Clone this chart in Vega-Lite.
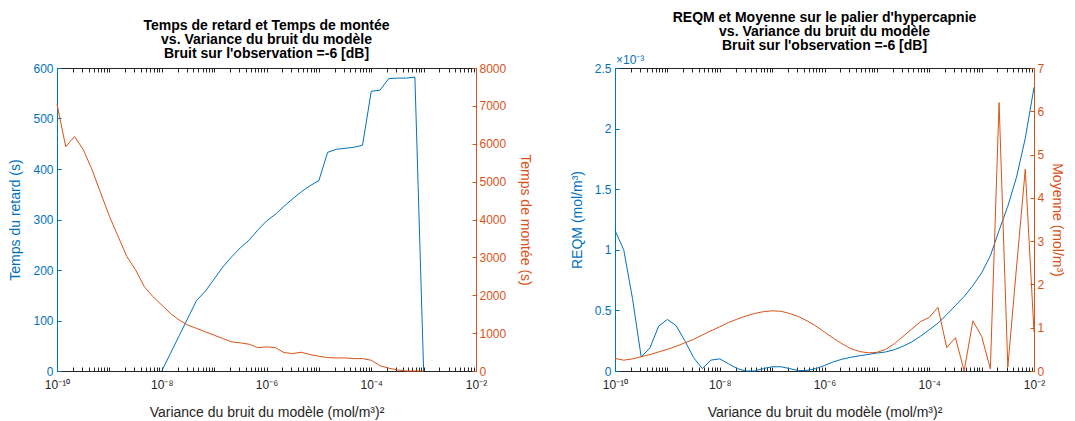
{
  "$schema": "https://vega.github.io/schema/vega-lite/v6.json",
  "background": "white",
  "padding": {"left": 8, "top": 11, "right": 8, "bottom": 2},
  "datasets": {
    "gauche": [
      {"x": 1e-10, "montee": 7045},
      {"x": 1.4678e-10, "montee": 5923},
      {"x": 2.1544e-10, "montee": 6188},
      {"x": 3.1623e-10, "montee": 5852},
      {"x": 4.6416e-10, "montee": 5322},
      {"x": 6.8129e-10, "montee": 4703},
      {"x": 1e-9, "montee": 4084},
      {"x": 1.4678e-9, "montee": 3554},
      {"x": 2.1544e-9, "montee": 3023},
      {"x": 3.1623e-9, "montee": 2670},
      {"x": 4.6416e-9, "montee": 2228},
      {"x": 6.8129e-9, "montee": 1962},
      {"x": 1e-8, "retard": 0, "montee": 1741},
      {"x": 1.4678e-8, "retard": 35, "montee": 1520},
      {"x": 2.1544e-8, "retard": 70, "montee": 1344},
      {"x": 3.1623e-8, "retard": 105, "montee": 1211},
      {"x": 4.6416e-8, "retard": 140, "montee": 1123},
      {"x": 6.8129e-8, "retard": 158, "montee": 1034},
      {"x": 1e-7, "retard": 182, "montee": 946},
      {"x": 1.4678e-7, "retard": 206, "montee": 857},
      {"x": 2.1544e-7, "retard": 226, "montee": 769},
      {"x": 3.1623e-7, "retard": 244, "montee": 743},
      {"x": 4.6416e-7, "retard": 259, "montee": 707},
      {"x": 6.8129e-7, "retard": 279, "montee": 619},
      {"x": 1e-6, "retard": 297, "montee": 636},
      {"x": 1.4678e-6, "retard": 310, "montee": 619},
      {"x": 2.1544e-6, "retard": 326, "montee": 486},
      {"x": 3.1623e-6, "retard": 341, "montee": 460},
      {"x": 4.6416e-6, "retard": 355, "montee": 495},
      {"x": 6.8129e-6, "retard": 367, "montee": 433},
      {"x": 1e-5, "retard": 377, "montee": 389},
      {"x": 1.4678e-5, "retard": 433, "montee": 354},
      {"x": 2.1544e-5, "retard": 439, "montee": 345},
      {"x": 3.1623e-5, "retard": 441, "montee": 345},
      {"x": 4.6416e-5, "retard": 443, "montee": 327},
      {"x": 6.8129e-5, "retard": 447, "montee": 327},
      {"x": 1e-4, "retard": 554, "montee": 283},
      {"x": 1.4678e-4, "retard": 556, "montee": 140},
      {"x": 2.1544e-4, "retard": 579, "montee": 75},
      {"x": 3.1623e-4, "retard": 580, "montee": 30},
      {"x": 4.6416e-4, "retard": 580, "montee": 0},
      {"x": 6.8129e-4, "retard": 582, "montee": 0},
      {"x": 1e-3, "retard": 0, "montee": 0}
    ],
    "droite": [
      {"x": 1e-10, "reqm": 0.00116, "moyenne": 0.29},
      {"x": 1.4678e-10, "reqm": 0.00100, "moyenne": 0.25},
      {"x": 2.1544e-10, "reqm": 0.00060, "moyenne": 0.28},
      {"x": 3.1623e-10, "reqm": 0.000116, "moyenne": 0.33},
      {"x": 4.6416e-10, "reqm": 0.00019, "moyenne": 0.38},
      {"x": 6.8129e-10, "reqm": 0.00037, "moyenne": 0.44},
      {"x": 1e-9, "reqm": 0.000425, "moyenne": 0.50},
      {"x": 1.4678e-9, "reqm": 0.000375, "moyenne": 0.57},
      {"x": 2.1544e-9, "reqm": 0.00025, "moyenne": 0.65},
      {"x": 3.1623e-9, "reqm": 0.00011, "moyenne": 0.73},
      {"x": 4.6416e-9, "reqm": 0.00002, "moyenne": 0.83},
      {"x": 6.8129e-9, "reqm": 0.00009, "moyenne": 0.93},
      {"x": 1e-8, "reqm": 0.00010, "moyenne": 1.02},
      {"x": 1.4678e-8, "reqm": 0.00006, "moyenne": 1.12},
      {"x": 2.1544e-8, "reqm": 0.00002, "moyenne": 1.20},
      {"x": 3.1623e-8, "reqm": 0.0, "moyenne": 1.27},
      {"x": 4.6416e-8, "reqm": 0.0, "moyenne": 1.33},
      {"x": 6.8129e-8, "reqm": 0.00002, "moyenne": 1.37},
      {"x": 1e-7, "reqm": 0.000035, "moyenne": 1.39},
      {"x": 1.4678e-7, "reqm": 0.000035, "moyenne": 1.38},
      {"x": 2.1544e-7, "reqm": 0.00002, "moyenne": 1.33},
      {"x": 3.1623e-7, "reqm": 0.000003, "moyenne": 1.26},
      {"x": 4.6416e-7, "reqm": 0.000005, "moyenne": 1.16},
      {"x": 6.8129e-7, "reqm": 0.00002, "moyenne": 1.04},
      {"x": 1e-6, "reqm": 0.000045, "moyenne": 0.90},
      {"x": 1.4678e-6, "reqm": 0.000075, "moyenne": 0.76},
      {"x": 2.1544e-6, "reqm": 0.000097, "moyenne": 0.63},
      {"x": 3.1623e-6, "reqm": 0.000113, "moyenne": 0.52},
      {"x": 4.6416e-6, "reqm": 0.000125, "moyenne": 0.45},
      {"x": 6.8129e-6, "reqm": 0.000136, "moyenne": 0.42},
      {"x": 1e-5, "reqm": 0.000148, "moyenne": 0.43},
      {"x": 1.4678e-5, "reqm": 0.000157, "moyenne": 0.50},
      {"x": 2.1544e-5, "reqm": 0.000176, "moyenne": 0.63},
      {"x": 3.1623e-5, "reqm": 0.000204, "moyenne": 0.80},
      {"x": 4.6416e-5, "reqm": 0.00024, "moyenne": 0.97},
      {"x": 6.8129e-5, "reqm": 0.000287, "moyenne": 1.14},
      {"x": 1e-4, "reqm": 0.00034, "moyenne": 1.24},
      {"x": 1.4678e-4, "reqm": 0.000395, "moyenne": 1.47},
      {"x": 2.1544e-4, "reqm": 0.000465, "moyenne": 0.54},
      {"x": 3.1623e-4, "reqm": 0.00054, "moyenne": 0.77},
      {"x": 4.6416e-4, "reqm": 0.000615, "moyenne": 0.0},
      {"x": 6.8129e-4, "reqm": 0.000705, "moyenne": 1.16},
      {"x": 1e-3, "reqm": 0.00081, "moyenne": 0.80},
      {"x": 1.4678e-3, "reqm": 0.00095, "moyenne": 0.05},
      {"x": 2.1544e-3, "reqm": 0.00116, "moyenne": 6.20},
      {"x": 3.1623e-3, "reqm": 0.00136, "moyenne": 0.09},
      {"x": 4.6416e-3, "reqm": 0.0016, "moyenne": 2.4},
      {"x": 6.8129e-3, "reqm": 0.00192, "moyenne": 4.66},
      {"x": 1e-2, "reqm": 0.00234, "moyenne": 0.9}
    ]
  },
  "config": {
    "font": "Liberation Sans",
    "view": {"stroke": null},
    "axis": {
      "grid": false,
      "labelFont": "Liberation Sans",
      "labelFontSize": 12,
      "titleFont": "Liberation Sans",
      "titleFontSize": 14,
      "titleFontWeight": "normal",
      "domainColor": "#262626",
      "tickColor": "#262626",
      "labelColor": "#262626",
      "titleColor": "#262626",
      "domainWidth": 1,
      "tickWidth": 1
    },
    "title": {
      "font": "Liberation Sans",
      "fontSize": 14,
      "fontWeight": "bold",
      "color": "#000000",
      "anchor": "middle",
      "lineHeight": 14,
      "offset": 1
    }
  },
  "hconcat": [
    {
      "width": 419,
      "height": 303,
      "title": {"text": ["Temps de retard et Temps de montée", "vs. Variance du bruit du modèle", "Bruit sur l'observation =-6 [dB]"]},
      "data": {"name": "gauche"},
      "layer": [
        {
          "mark": {"type": "line", "color": "#0072BD", "strokeWidth": 1},
          "encoding": {
            "x": {
              "field": "x", "type": "quantitative",
              "scale": {"type": "log", "domain": [1e-10, 1e-2], "nice": false},
              "axis": {
                "orient": "bottom",
                "title": "Variance du bruit du modèle (mol/m³)²",
                "values": [1e-10,2e-10,3e-10,4e-10,5e-10,6e-10,7e-10,8e-10,9e-10,1e-9,2e-9,3e-9,4e-9,5e-9,6e-9,7e-9,8e-9,9e-9,1e-8,2e-8,3e-8,4e-8,5e-8,6e-8,7e-8,8e-8,9e-8,1e-7,2e-7,3e-7,4e-7,5e-7,6e-7,7e-7,8e-7,9e-7,1e-6,2e-6,3e-6,4e-6,5e-6,6e-6,7e-6,8e-6,9e-6,1e-5,2e-5,3e-5,4e-5,5e-5,6e-5,7e-5,8e-5,9e-5,1e-4,2e-4,3e-4,4e-4,5e-4,6e-4,7e-4,8e-4,9e-4,1e-3,2e-3,3e-3,4e-3,5e-3,6e-3,7e-3,8e-3,9e-3,1e-2],
                "labelExpr": "datum.value == 1e-10 ? '10⁻¹⁰' : datum.value == 1e-8 ? '10⁻⁸' : datum.value == 1e-6 ? '10⁻⁶' : datum.value == 1e-4 ? '10⁻⁴' : datum.value == 1e-2 ? '10⁻²' : ''",
                "labelOverlap": false,
                "labelFlush": false,
                "labelBound": false,
                "tickSize": -4,
                "labelPadding": 12,
                "titlePadding": 15
              }
            },
            "y": {
              "field": "retard", "type": "quantitative",
              "scale": {"domain": [0, 600], "nice": false},
              "axis": {
                "orient": "left",
                "title": "Temps du retard (s)",
                "values": [0, 100, 200, 300, 400, 500, 600],
                "tickSize": -4,
                "labelPadding": 8,
                "titlePadding": 10,
                "domainColor": "#0072BD",
                "tickColor": "#0072BD",
                "labelColor": "#0072BD",
                "titleColor": "#0072BD"
              }
            }
          }
        },
        {
          "mark": {"type": "line", "color": "#D95319", "strokeWidth": 1},
          "encoding": {
            "x": {
              "field": "x", "type": "quantitative",
              "scale": {"type": "log", "domain": [1e-10, 1e-2], "nice": false},
              "axis": {
                "orient": "top",
                "title": null,
                "labels": false,
                "values": [1e-10,2e-10,3e-10,4e-10,5e-10,6e-10,7e-10,8e-10,9e-10,1e-9,2e-9,3e-9,4e-9,5e-9,6e-9,7e-9,8e-9,9e-9,1e-8,2e-8,3e-8,4e-8,5e-8,6e-8,7e-8,8e-8,9e-8,1e-7,2e-7,3e-7,4e-7,5e-7,6e-7,7e-7,8e-7,9e-7,1e-6,2e-6,3e-6,4e-6,5e-6,6e-6,7e-6,8e-6,9e-6,1e-5,2e-5,3e-5,4e-5,5e-5,6e-5,7e-5,8e-5,9e-5,1e-4,2e-4,3e-4,4e-4,5e-4,6e-4,7e-4,8e-4,9e-4,1e-3,2e-3,3e-3,4e-3,5e-3,6e-3,7e-3,8e-3,9e-3,1e-2],
                "tickSize": -4
              }
            },
            "y": {
              "field": "montee", "type": "quantitative",
              "scale": {"domain": [0, 8000], "nice": false},
              "axis": {
                "orient": "right",
                "title": "Temps de montée (s)",
                "values": [0, 1000, 2000, 3000, 4000, 5000, 6000, 7000, 8000],
                "format": "d",
                "tickSize": -4,
                "labelPadding": 7,
                "titlePadding": 12,
                "domainColor": "#D95319",
                "tickColor": "#D95319",
                "labelColor": "#D95319",
                "titleColor": "#D95319"
              }
            }
          }
        }
      ],
      "resolve": {"scale": {"y": "independent"}, "axis": {"x": "independent", "y": "independent"}}
    },
    {
      "width": 419,
      "height": 303,
      "title": {"text": ["REQM et Moyenne sur le palier d'hypercapnie", "vs. Variance du bruit du modèle", "Bruit sur l'observation =-6 [dB]"]},
      "data": {"name": "droite"},
      "layer": [
        {
          "mark": {"type": "line", "color": "#0072BD", "strokeWidth": 1},
          "encoding": {
            "x": {
              "field": "x", "type": "quantitative",
              "scale": {"type": "log", "domain": [1e-10, 1e-2], "nice": false},
              "axis": {
                "orient": "bottom",
                "title": "Variance du bruit du modèle (mol/m³)²",
                "values": [1e-10,2e-10,3e-10,4e-10,5e-10,6e-10,7e-10,8e-10,9e-10,1e-9,2e-9,3e-9,4e-9,5e-9,6e-9,7e-9,8e-9,9e-9,1e-8,2e-8,3e-8,4e-8,5e-8,6e-8,7e-8,8e-8,9e-8,1e-7,2e-7,3e-7,4e-7,5e-7,6e-7,7e-7,8e-7,9e-7,1e-6,2e-6,3e-6,4e-6,5e-6,6e-6,7e-6,8e-6,9e-6,1e-5,2e-5,3e-5,4e-5,5e-5,6e-5,7e-5,8e-5,9e-5,1e-4,2e-4,3e-4,4e-4,5e-4,6e-4,7e-4,8e-4,9e-4,1e-3,2e-3,3e-3,4e-3,5e-3,6e-3,7e-3,8e-3,9e-3,1e-2],
                "labelExpr": "datum.value == 1e-10 ? '10⁻¹⁰' : datum.value == 1e-8 ? '10⁻⁸' : datum.value == 1e-6 ? '10⁻⁶' : datum.value == 1e-4 ? '10⁻⁴' : datum.value == 1e-2 ? '10⁻²' : ''",
                "labelOverlap": false,
                "labelFlush": false,
                "labelBound": false,
                "tickSize": -4,
                "labelPadding": 12,
                "titlePadding": 15
              }
            },
            "y": {
              "field": "reqm", "type": "quantitative",
              "scale": {"domain": [0, 0.0025], "nice": false},
              "axis": {
                "orient": "left",
                "title": "REQM (mol/m³)",
                "values": [0, 0.0005, 0.001, 0.0015, 0.002, 0.0025],
                "labelExpr": "format(datum.value * 1000, '~g')",
                "tickSize": -4,
                "labelPadding": 8,
                "titlePadding": 10,
                "domainColor": "#0072BD",
                "tickColor": "#0072BD",
                "labelColor": "#0072BD",
                "titleColor": "#0072BD"
              }
            }
          }
        },
        {
          "mark": {"type": "line", "color": "#D95319", "strokeWidth": 1},
          "encoding": {
            "x": {
              "field": "x", "type": "quantitative",
              "scale": {"type": "log", "domain": [1e-10, 1e-2], "nice": false},
              "axis": {
                "orient": "top",
                "title": null,
                "labels": false,
                "values": [1e-10,2e-10,3e-10,4e-10,5e-10,6e-10,7e-10,8e-10,9e-10,1e-9,2e-9,3e-9,4e-9,5e-9,6e-9,7e-9,8e-9,9e-9,1e-8,2e-8,3e-8,4e-8,5e-8,6e-8,7e-8,8e-8,9e-8,1e-7,2e-7,3e-7,4e-7,5e-7,6e-7,7e-7,8e-7,9e-7,1e-6,2e-6,3e-6,4e-6,5e-6,6e-6,7e-6,8e-6,9e-6,1e-5,2e-5,3e-5,4e-5,5e-5,6e-5,7e-5,8e-5,9e-5,1e-4,2e-4,3e-4,4e-4,5e-4,6e-4,7e-4,8e-4,9e-4,1e-3,2e-3,3e-3,4e-3,5e-3,6e-3,7e-3,8e-3,9e-3,1e-2],
                "tickSize": -4
              }
            },
            "y": {
              "field": "moyenne", "type": "quantitative",
              "scale": {"domain": [0, 7], "nice": false},
              "axis": {
                "orient": "right",
                "title": "Moyenne (mol/m³)",
                "values": [0, 1, 2, 3, 4, 5, 6, 7],
                "tickSize": -4,
                "labelPadding": 7,
                "titlePadding": 6,
                "domainColor": "#D95319",
                "tickColor": "#D95319",
                "labelColor": "#D95319",
                "titleColor": "#D95319"
              }
            }
          }
        },
        {
          "data": {"values": [{}]},
          "mark": {"type": "text", "align": "left", "baseline": "bottom", "fontSize": 12, "color": "#0072BD", "dx": 1, "dy": -1},
          "encoding": {
            "x": {"datum": 1e-10, "type": "quantitative", "scale": {"type": "log", "domain": [1e-10, 1e-2], "nice": false}, "axis": null},
            "y": {"datum": 0.0025, "type": "quantitative", "scale": {"domain": [0, 0.0025], "nice": false}, "axis": null},
            "text": {"value": "×10⁻³"}
          }
        }
      ],
      "resolve": {"scale": {"y": "independent"}, "axis": {"x": "independent", "y": "independent"}}
    }
  ],
  "spacing": 139,
  "bounds": "flush"
}
